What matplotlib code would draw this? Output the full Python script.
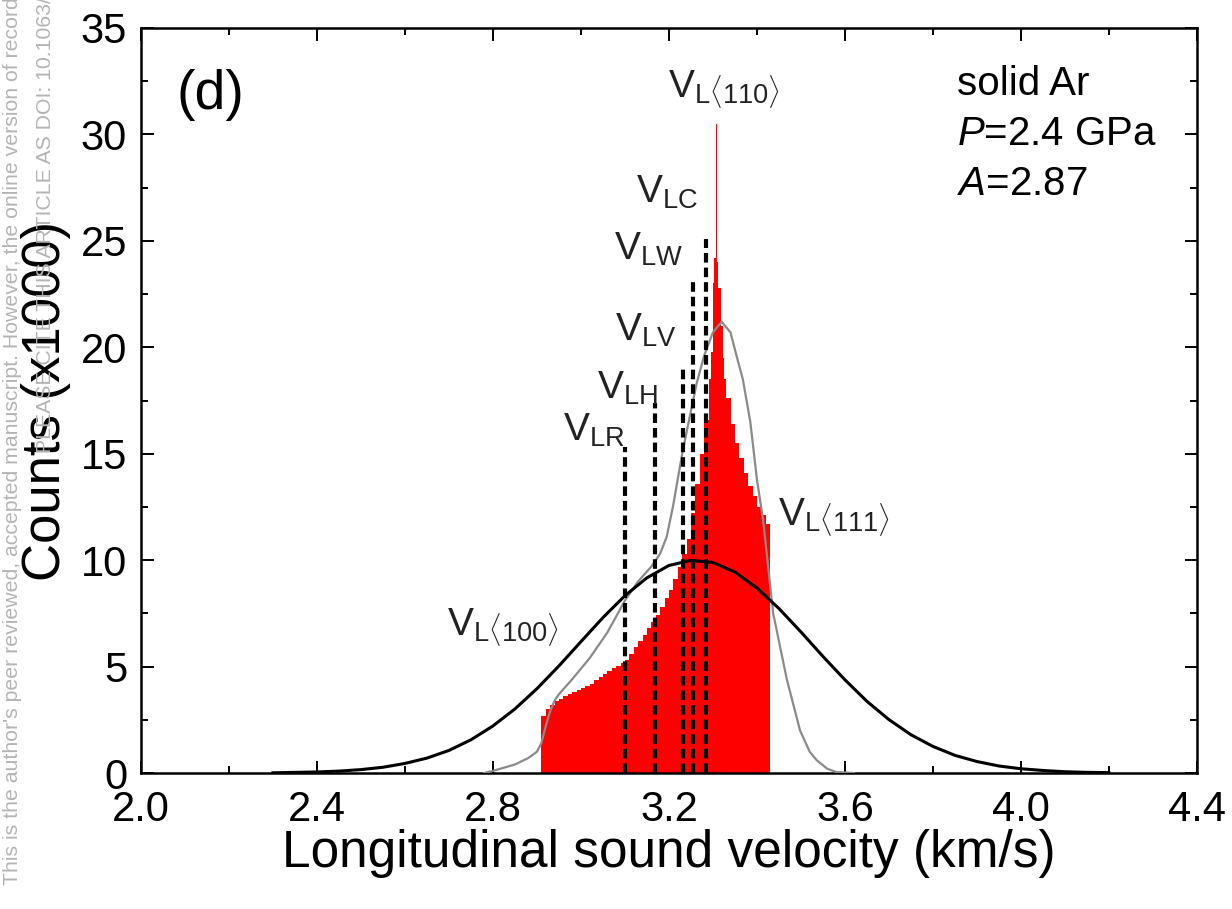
import numpy as np
import matplotlib
matplotlib.use('Agg')
import matplotlib.pyplot as plt
from matplotlib import font_manager
from matplotlib.ticker import MultipleLocator, FormatStrFormatter

plt.rcParams['font.family'] = ['Liberation Sans', 'DejaVu Sans']
plt.rcParams['mathtext.fontset'] = 'custom'
plt.rcParams['mathtext.rm'] = 'Liberation Sans'
plt.rcParams['mathtext.it'] = 'Liberation Sans:italic'
plt.rcParams['mathtext.bf'] = 'Liberation Sans:bold'

# red histogram: left bin edges and counts (x1000), last edge closes it
hist_left = [2.910, 2.920, 2.930, 2.940, 2.950, 2.960, 2.970, 2.980, 2.990, 3.000,
             3.010, 3.020, 3.030, 3.040, 3.050, 3.060, 3.070, 3.080, 3.090, 3.100,
             3.110, 3.120, 3.130, 3.140, 3.150, 3.160, 3.170, 3.180, 3.190, 3.200,
             3.210, 3.220, 3.230, 3.240, 3.250, 3.260, 3.270, 3.280, 3.290, 3.295,
             3.300, 3.303, 3.306, 3.309, 3.312, 3.318, 3.322, 3.326, 3.330, 3.340,
             3.350, 3.360, 3.370, 3.380, 3.390, 3.400, 3.410, 3.420]
hist_counts = [2.7, 3.0, 3.2, 3.4, 3.5, 3.6, 3.7, 3.8, 3.9, 4.0,
               4.1, 4.2, 4.35, 4.5, 4.65, 4.8, 4.95, 5.05, 5.15, 5.3,
               5.6, 5.9, 6.2, 6.5, 6.8, 7.1, 7.4, 7.8, 8.2, 8.6,
               9.1, 9.7, 10.3, 11.0, 12.2, 13.6, 15.0, 16.6, 18.5, 19.8,
               23.0, 24.2, 30.5, 24.0, 22.8, 21.0, 19.5, 18.5, 17.6, 16.4,
               15.5, 14.8, 14.1, 13.5, 13.0, 12.5, 12.1, 11.7]
hist_end = 3.430

# black curve (Gaussian-like fit)
fit_v = [2.30, 2.35, 2.40, 2.45, 2.50, 2.55, 2.60, 2.65, 2.70, 2.75, 2.80, 2.85,
         2.90, 2.95, 3.00, 3.05, 3.10, 3.15, 3.20, 3.25, 3.30, 3.35, 3.40, 3.45,
         3.50, 3.55, 3.60, 3.65, 3.70, 3.75, 3.80, 3.85, 3.90, 3.95, 4.00, 4.05,
         4.10, 4.15, 4.20]
fit_counts = [0.01, 0.03, 0.05, 0.09, 0.16, 0.27, 0.45, 0.70, 1.06, 1.56, 2.21, 3.01,
              3.96, 5.03, 6.17, 7.30, 8.33, 9.17, 9.75, 9.99, 9.89, 9.44, 8.69, 7.73,
              6.63, 5.48, 4.38, 3.37, 2.51, 1.80, 1.25, 0.83, 0.54, 0.33, 0.20, 0.12,
              0.06, 0.03, 0.02]

# gray curve
gray_v = [2.78, 2.80, 2.85, 2.88, 2.90, 2.91, 2.92, 2.93, 2.94, 2.95, 2.98, 3.02,
          3.06, 3.10, 3.13, 3.16, 3.18, 3.195, 3.21, 3.22, 3.232, 3.25, 3.263, 3.28,
          3.30, 3.32, 3.34, 3.355, 3.368, 3.385, 3.40, 3.414, 3.437, 3.468, 3.498,
          3.52, 3.536, 3.56, 3.58, 3.62]
gray_counts = [0.0, 0.1, 0.4, 0.7, 1.0, 1.4, 2.2, 2.9, 3.4, 3.7, 4.4, 5.4,
               6.6, 8.1, 9.0, 9.7, 10.3, 11.1, 12.6, 13.8, 15.2, 17.0, 18.3, 19.6,
               20.7, 21.2, 20.7, 19.5, 18.5, 16.5, 13.8, 11.9, 7.5, 4.4, 2.0,
               1.0, 0.6, 0.2, 0.05, 0.0]

# dashed markers
mark_names = ['LR', 'LH', 'LV', 'LW', 'LC']
mark_v = [3.100, 3.168, 3.232, 3.255, 3.284]
mark_top = [15.3, 17.4, 19.1, 23.1, 25.1]

# label texts with positions (x, y) in data units
label_texts = [r'$\mathrm{V_{LR}}$', r'$\mathrm{V_{LH}}$', r'$\mathrm{V_{LV}}$',
               r'$\mathrm{V_{LW}}$', r'$\mathrm{V_{LC}}$',
               r'$\mathrm{V_{L\langle 110\rangle}}$', r'$\mathrm{V_{L\langle 111\rangle}}$',
               r'$\mathrm{V_{L\langle 100\rangle}}$']
label_x = [2.959, 3.036, 3.077, 3.075, 3.125, 3.198, 3.448, 2.695]
label_y = [15.6, 17.6, 20.3, 24.1, 26.8, 31.8, 11.7, 6.5]

fig = plt.figure(figsize=(12.32, 9.09), dpi=100)
ax = fig.add_axes([0.1144, 0.1496, 0.8571, 0.8196])

edges = hist_left + [hist_end]
heights = hist_counts + [hist_counts[-1]]
ax.fill_between(edges, heights, step='post', color='#ff0000', lw=0, zorder=2)

ax.plot(gray_v, gray_counts, color='#8a8a8a', lw=1.6, zorder=3)
ax.plot(fit_v, fit_counts, color='black', lw=2.2, zorder=4)

for v, top in zip(mark_v, mark_top):
    ax.plot([v, v], [0, top], color='black', lw=3.0, linestyle=(0, (2.3, 1.2)), zorder=5)

for t, x, y in zip(label_texts, label_x, label_y):
    ax.text(x, y, t, fontsize=28, ha='left', va='baseline', color='#222222', zorder=6)

ax.text(0.034, 0.91, '(d)', transform=ax.transAxes, fontsize=40, va='center', ha='left')
ax.text(0.773, 0.925, 'solid Ar', transform=ax.transAxes, fontsize=29, va='center')
ax.text(0.773, 0.858, r'$P$=2.4 GPa', transform=ax.transAxes, fontsize=29, va='center')
ax.text(0.773, 0.79, r'$A$=2.87', transform=ax.transAxes, fontsize=29, va='center')

ax.set_xlim(2.0, 4.4)
ax.set_ylim(0, 35)
ax.xaxis.set_major_locator(MultipleLocator(0.4))
ax.xaxis.set_minor_locator(MultipleLocator(0.2))
ax.xaxis.set_major_formatter(FormatStrFormatter('%.1f'))
ax.yaxis.set_major_locator(MultipleLocator(5))
ax.yaxis.set_minor_locator(MultipleLocator(2.5))
ax.tick_params(which='both', direction='in', top=True, right=True, width=1.4)
ax.tick_params(which='major', length=9, labelsize=30)
ax.tick_params(axis='x', which='major', pad=12)
ax.tick_params(axis='y', which='major', pad=10)
ax.tick_params(which='minor', length=5)
for s in ax.spines.values():
    s.set_linewidth(1.8)

ax.set_xlabel('Longitudinal sound velocity (km/s)', fontsize=37)
ax.set_ylabel('Counts (x1000)', fontsize=38)
ax.xaxis.set_label_coords(0.5, -0.075)
ax.yaxis.set_label_coords(-0.066, 0.5)

# manuscript watermark at left edge
names = {f.name for f in font_manager.fontManager.ttflist}
wm_font = 'Liberation Sans Narrow' if 'Liberation Sans Narrow' in names else 'Liberation Sans'
wm_size = 18.5 if wm_font == 'Liberation Sans Narrow' else 15.3
fig.text(0.0105, 1.003, "This is the author's peer reviewed, accepted manuscript. However, the online version of record",
         rotation=90, ha='center', va='top', color='#b4b4b4', fontsize=wm_size, family=wm_font)
fig.text(0.037, 1.003, 'PLEASE CITE THIS ARTICLE AS DOI: 10.1063/',
         rotation=90, ha='center', va='top', color='#b4b4b4', fontsize=wm_size, family=wm_font)

fig.savefig('out.png', dpi=100)
